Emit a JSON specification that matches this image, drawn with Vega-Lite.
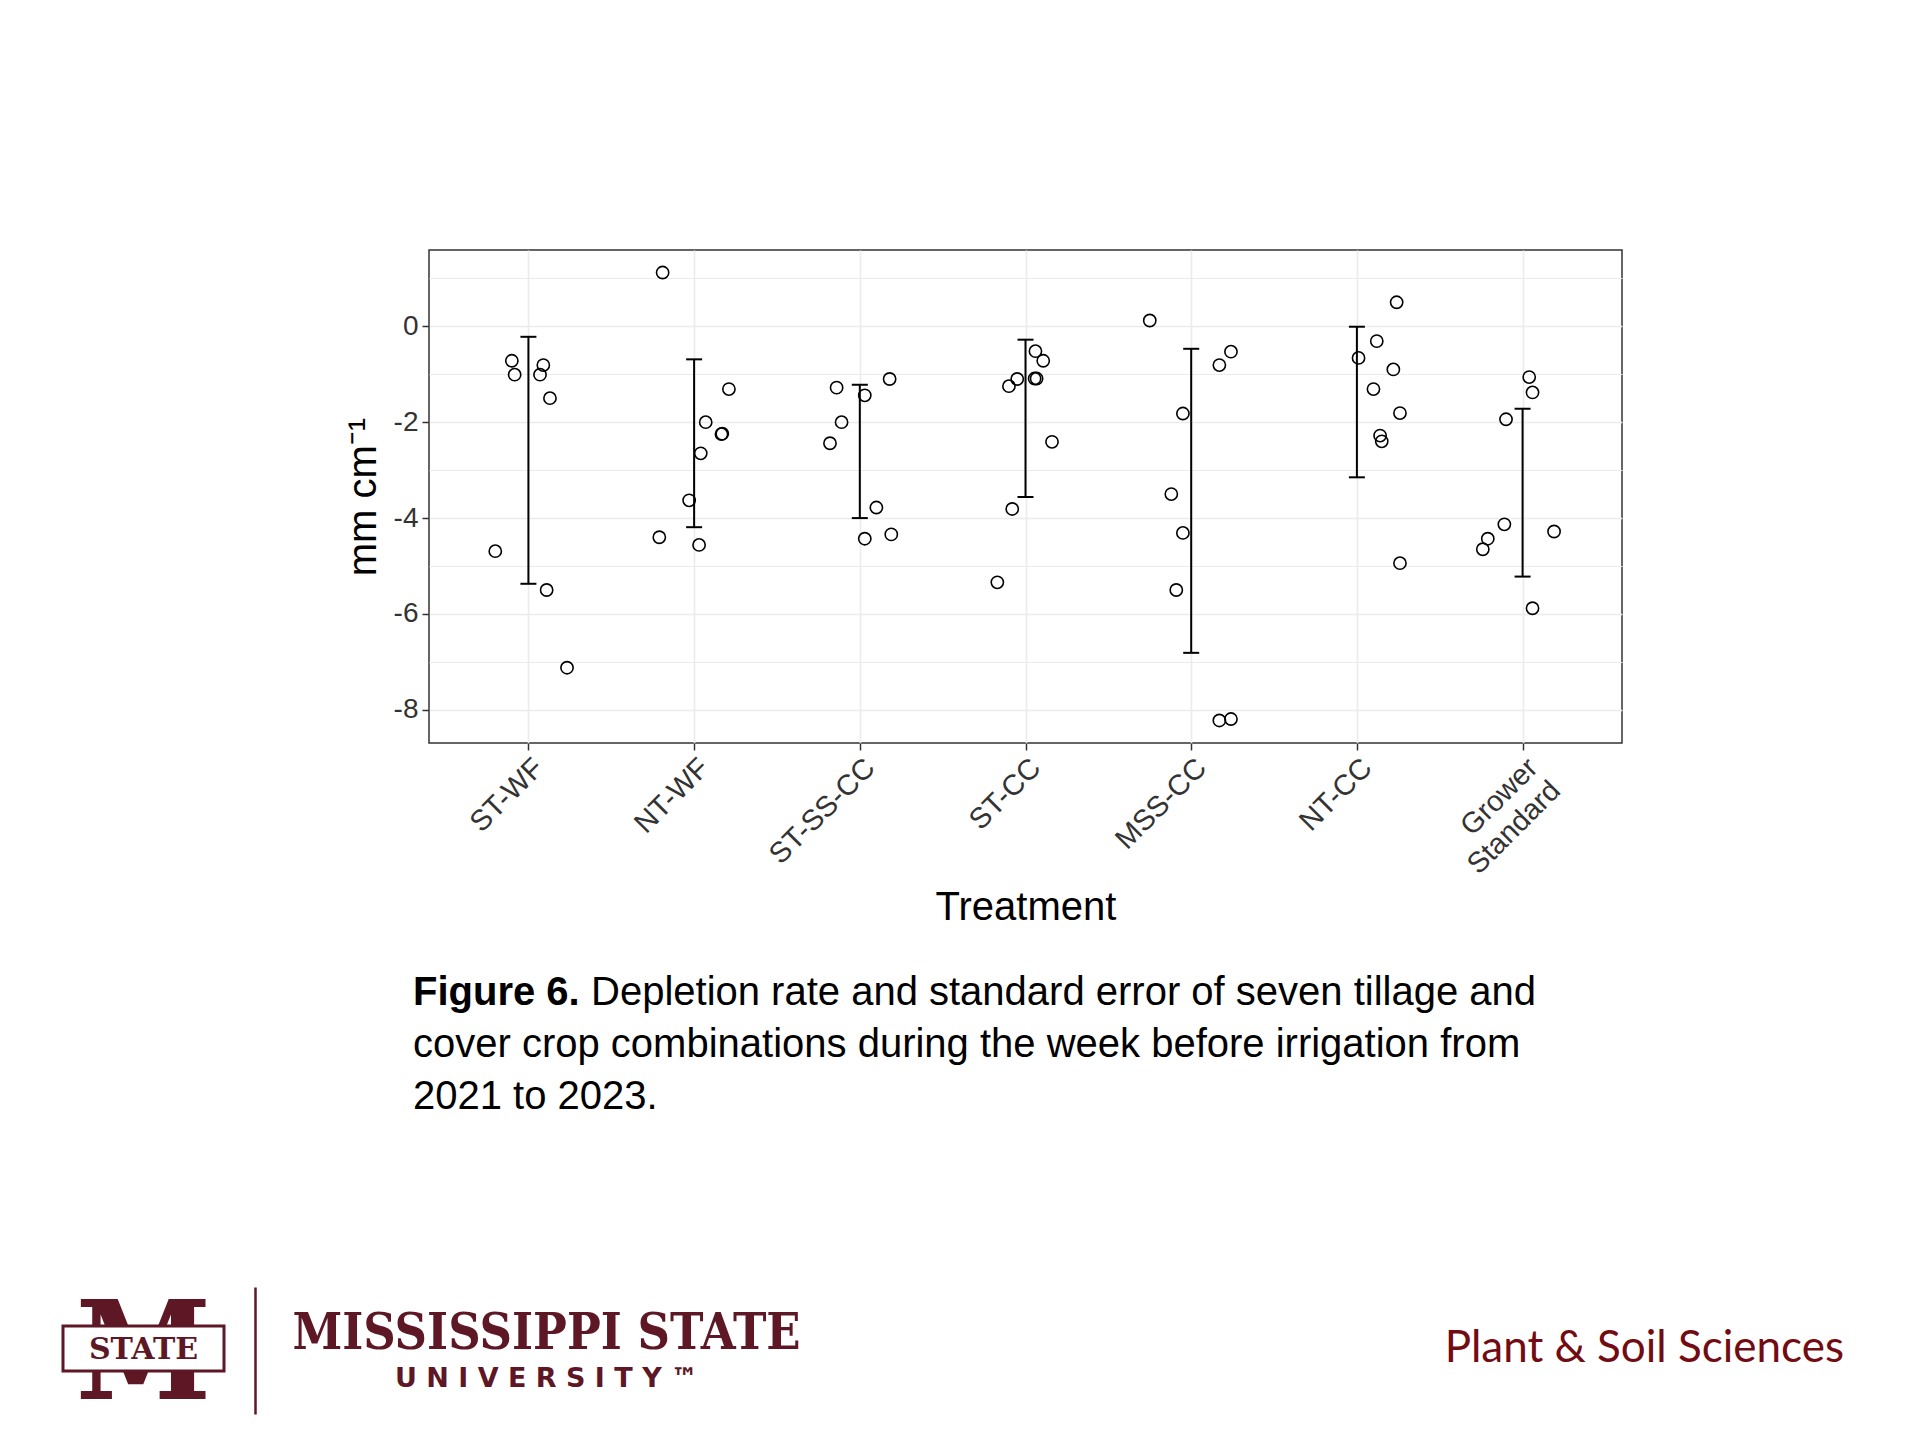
{
  "$schema": "https://vega.github.io/schema/vega-lite/v6.json",
  "background": "white",
  "padding": {"left": 61, "top": 249, "right": 20, "bottom": 12},
  "datasets": {
    "obs": [
      {"treatment": "ST-WF", "pos": 0.90, "rate": -0.72},
      {"treatment": "ST-WF", "pos": 0.917, "rate": -1.01},
      {"treatment": "ST-WF", "pos": 1.09, "rate": -0.81},
      {"treatment": "ST-WF", "pos": 1.07, "rate": -1.01},
      {"treatment": "ST-WF", "pos": 1.13, "rate": -1.50},
      {"treatment": "ST-WF", "pos": 0.80, "rate": -4.69},
      {"treatment": "ST-WF", "pos": 1.11, "rate": -5.50},
      {"treatment": "ST-WF", "pos": 1.233, "rate": -7.12},
      {"treatment": "NT-WF", "pos": 1.81, "rate": 1.12},
      {"treatment": "NT-WF", "pos": 2.21, "rate": -1.31},
      {"treatment": "NT-WF", "pos": 2.07, "rate": -2.00},
      {"treatment": "NT-WF", "pos": 2.165, "rate": -2.25},
      {"treatment": "NT-WF", "pos": 2.17, "rate": -2.24},
      {"treatment": "NT-WF", "pos": 2.04, "rate": -2.65},
      {"treatment": "NT-WF", "pos": 1.97, "rate": -3.63},
      {"treatment": "NT-WF", "pos": 1.79, "rate": -4.40},
      {"treatment": "NT-WF", "pos": 2.03, "rate": -4.56},
      {"treatment": "ST-SS-CC", "pos": 2.86, "rate": -1.28},
      {"treatment": "ST-SS-CC", "pos": 3.03, "rate": -1.44},
      {"treatment": "ST-SS-CC", "pos": 3.18, "rate": -1.10},
      {"treatment": "ST-SS-CC", "pos": 2.89, "rate": -2.00},
      {"treatment": "ST-SS-CC", "pos": 2.82, "rate": -2.44},
      {"treatment": "ST-SS-CC", "pos": 3.10, "rate": -3.78},
      {"treatment": "ST-SS-CC", "pos": 3.03, "rate": -4.43},
      {"treatment": "ST-SS-CC", "pos": 3.19, "rate": -4.34},
      {"treatment": "ST-CC", "pos": 3.83, "rate": -5.34},
      {"treatment": "ST-CC", "pos": 3.92, "rate": -3.81},
      {"treatment": "ST-CC", "pos": 3.90, "rate": -1.25},
      {"treatment": "ST-CC", "pos": 3.95, "rate": -1.10},
      {"treatment": "ST-CC", "pos": 4.055, "rate": -1.09},
      {"treatment": "ST-CC", "pos": 4.067, "rate": -1.09},
      {"treatment": "ST-CC", "pos": 4.06, "rate": -0.52},
      {"treatment": "ST-CC", "pos": 4.107, "rate": -0.72},
      {"treatment": "ST-CC", "pos": 4.16, "rate": -2.41},
      {"treatment": "MSS-CC", "pos": 4.75, "rate": 0.12},
      {"treatment": "MSS-CC", "pos": 5.17, "rate": -0.81},
      {"treatment": "MSS-CC", "pos": 5.24, "rate": -0.53},
      {"treatment": "MSS-CC", "pos": 4.95, "rate": -1.82},
      {"treatment": "MSS-CC", "pos": 4.88, "rate": -3.50},
      {"treatment": "MSS-CC", "pos": 4.95, "rate": -4.31},
      {"treatment": "MSS-CC", "pos": 4.91, "rate": -5.50},
      {"treatment": "MSS-CC", "pos": 5.17, "rate": -8.22},
      {"treatment": "MSS-CC", "pos": 5.24, "rate": -8.19},
      {"treatment": "NT-CC", "pos": 6.24, "rate": 0.50},
      {"treatment": "NT-CC", "pos": 6.12, "rate": -0.31},
      {"treatment": "NT-CC", "pos": 6.01, "rate": -0.66},
      {"treatment": "NT-CC", "pos": 6.22, "rate": -0.90},
      {"treatment": "NT-CC", "pos": 6.10, "rate": -1.31},
      {"treatment": "NT-CC", "pos": 6.26, "rate": -1.81},
      {"treatment": "NT-CC", "pos": 6.14, "rate": -2.28},
      {"treatment": "NT-CC", "pos": 6.15, "rate": -2.40},
      {"treatment": "NT-CC", "pos": 6.26, "rate": -4.94},
      {"treatment": "Grower Standard", "pos": 7.04, "rate": -1.06},
      {"treatment": "Grower Standard", "pos": 7.06, "rate": -1.38},
      {"treatment": "Grower Standard", "pos": 6.90, "rate": -1.94},
      {"treatment": "Grower Standard", "pos": 6.89, "rate": -4.13},
      {"treatment": "Grower Standard", "pos": 6.79, "rate": -4.43},
      {"treatment": "Grower Standard", "pos": 6.76, "rate": -4.65},
      {"treatment": "Grower Standard", "pos": 7.19, "rate": -4.28},
      {"treatment": "Grower Standard", "pos": 7.06, "rate": -5.88}
    ],
    "bars": [
      {"treatment": "ST-WF", "pos": 1, "lo": -5.37, "hi": -0.22},
      {"treatment": "NT-WF", "pos": 2, "lo": -4.19, "hi": -0.69},
      {"treatment": "ST-SS-CC", "pos": 3, "lo": -4.00, "hi": -1.22},
      {"treatment": "ST-CC", "pos": 4, "lo": -3.56, "hi": -0.28},
      {"treatment": "MSS-CC", "pos": 5, "lo": -6.81, "hi": -0.47},
      {"treatment": "NT-CC", "pos": 6, "lo": -3.15, "hi": -0.01},
      {"treatment": "Grower Standard", "pos": 7, "lo": -5.22, "hi": -1.72}
    ],
    "divider": [{"v": 0}, {"v": 1}]
  },
  "concat": [
    {
      "data": {"values": []}, "mark": "point", "width": 161, "height": 1,
      "title": {
        "text": "M",
        "orient": "bottom", "anchor": "middle", "frame": "group",
        "offset": 1041,
        "font": "DejaVu Serif Condensed, DejaVu Serif", "fontSize": 136, "fontWeight": "bold", "color": "#5d1725"
      }
    },
    {
      "data": {"values": []}, "mark": "point", "width": 205, "height": 1,
      "title": {
        "text": "Figure 6.",
        "subtitle": [
          "cover crop combinations during the week before irrigation from",
          "2021 to 2023."
        ],
        "orient": "bottom", "anchor": "start", "frame": "group",
        "offset": 722, "dx": 189,
        "font": "Liberation Sans", "fontSize": 40, "fontWeight": "bold", "color": "#000000",
        "subtitleFont": "Liberation Sans", "subtitleFontSize": 40, "subtitleFontWeight": "normal",
        "subtitleColor": "#000000", "subtitleLineHeight": 52, "subtitlePadding": 12
      }
    },
    {
      "width": 1193,
      "height": 493,
      "view": {"stroke": "#333333", "strokeWidth": 1.5},
      "layer": [
        {
          "data": {"name": "bars"},
          "mark": {"type": "rule", "color": "#000000", "strokeWidth": 2},
          "encoding": {
            "x": {
              "field": "pos", "type": "quantitative", "title": "Treatment",
              "scale": {"domain": [0.4, 7.6], "nice": false, "zero": false},
              "axis": {
                "values": [1, 2, 3, 4, 5, 6, 7],
                "labelExpr": "[' ', 'ST-WF', 'NT-WF', 'ST-SS-CC', 'ST-CC', 'MSS-CC', 'NT-CC', ['Grower', 'Standard']][datum.value]",
                "labelAngle": -45,
                "labelAlign": "right",
                "labelBaseline": "top",
                "labelFont": "Liberation Sans",
                "labelFontSize": 29,
                "labelLineHeight": 32,
                "labelColor": "#333333",
                "labelPadding": 3,
                "labelFlush": false,
                "labelOverlap": false,
                "tickSize": 7,
                "tickColor": "#333333",
                "tickWidth": 1.5,
                "domain": false,
                "grid": true,
                "gridColor": "#ebebeb",
                "gridWidth": 1.6,
                "titleFont": "Liberation Sans",
                "titleFontSize": 40,
                "titleFontWeight": "normal",
                "titleColor": "#000000",
                "titlePadding": 8
              }
            },
            "y": {
              "field": "lo", "type": "quantitative", "title": "mm cm⁻¹",
              "scale": {"domain": [-8.69, 1.59], "nice": false, "zero": false},
              "axis": {
                "values": [-8, -7, -6, -5, -4, -3, -2, -1, 0, 1],
                "labelExpr": "datum.value % 2 === 0 ? '' + datum.value : ''",
                "labelFont": "Liberation Sans",
                "labelFontSize": 28,
                "labelColor": "#333333",
                "labelPadding": 4,
                "tickSize": 7,
                "tickColor": "#333333",
                "tickWidth": 1.5,
                "tickOpacity": {"condition": {"test": "datum.value % 2 === 0", "value": 1}, "value": 0},
                "domain": false,
                "grid": true,
                "gridColor": "#ebebeb",
                "gridWidth": {"condition": {"test": "datum.value % 2 === 0", "value": 1.6}, "value": 1.1},
                "titleFont": "Liberation Sans",
                "titleFontSize": 40,
                "titleFontWeight": "normal",
                "titleColor": "#000000",
                "titlePadding": 10
              }
            },
            "y2": {"field": "hi"}
          }
        },
        {
          "data": {"name": "bars"},
          "mark": {"type": "tick", "orient": "horizontal", "color": "#000000", "size": 16, "thickness": 2, "opacity": 1},
          "encoding": {
            "x": {"field": "pos", "type": "quantitative", "title": "Treatment"},
            "y": {"field": "lo", "type": "quantitative", "title": "mm cm⁻¹"}
          }
        },
        {
          "data": {"name": "bars"},
          "mark": {"type": "tick", "orient": "horizontal", "color": "#000000", "size": 16, "thickness": 2, "opacity": 1},
          "encoding": {
            "x": {"field": "pos", "type": "quantitative", "title": "Treatment"},
            "y": {"field": "hi", "type": "quantitative", "title": "mm cm⁻¹"}
          }
        },
        {
          "data": {"name": "obs"},
          "mark": {"type": "point", "shape": "circle", "filled": false, "color": "#000000", "size": 150, "strokeWidth": 1.6, "opacity": 1},
          "encoding": {
            "x": {"field": "pos", "type": "quantitative", "title": "Treatment"},
            "y": {"field": "rate", "type": "quantitative", "title": "mm cm⁻¹"}
          }
        }
      ]
    },
    {
      "data": {"values": []}, "mark": "point", "width": 1, "height": 1,
      "title": {
        "text": "Depletion rate and standard error of seven tillage and",
        "orient": "bottom", "anchor": "start", "frame": "group",
        "offset": 722, "dx": -1031,
        "font": "Liberation Sans", "fontSize": 40, "fontWeight": "normal", "color": "#000000"
      }
    },
    {
      "data": {"name": "divider"},
      "mark": {"type": "point", "opacity": 0, "size": 0},
      "width": 161, "height": 45,
      "view": {"fill": "#ffffff", "stroke": "#5d1725", "strokeWidth": 3},
      "encoding": {
        "y": {
          "field": "v", "type": "quantitative",
          "scale": {"domain": [0, 1], "range": [88, -39]},
          "axis": {"orient": "right", "offset": 31, "domain": true, "domainColor": "#5d1725", "domainWidth": 2.5,
                   "ticks": false, "labels": false, "grid": false, "title": null}
        }
      },
      "title": {
        "text": "STATE",
        "orient": "bottom", "anchor": "middle", "frame": "group",
        "offset": -118,
        "font": "DejaVu Serif", "fontSize": 30, "fontWeight": "bold", "color": "#5d1725"
      }
    },
    {
      "data": {"values": []}, "mark": "point", "width": 205, "height": 45,
      "title": {
        "text": "MISSISSIPPI STATE",
        "subtitle": "U N I V E R S I T Y ™",
        "orient": "bottom", "anchor": "middle", "frame": "group",
        "offset": -62, "dx": 220,
        "font": "DejaVu Serif Condensed, DejaVu Serif", "fontSize": 50, "fontWeight": "bold", "color": "#5d1725",
        "subtitleFont": "DejaVu Sans", "subtitleFontSize": 27, "subtitleFontWeight": "bold", "subtitleColor": "#5d1725",
        "subtitlePadding": 7
      }
    },
    {
      "data": {"values": []}, "mark": "point", "width": 1193, "height": 45,
      "title": {
        "text": "Plant & Soil Sciences",
        "orient": "bottom", "anchor": "end", "frame": "group",
        "offset": -44, "dx": 222,
        "font": "Lato", "fontSize": 44, "fontWeight": "normal", "color": "#720b12"
      }
    },
    {"data": {"values": []}, "mark": "point", "width": 1, "height": 1}
  ],
  "columns": 4,
  "bounds": "flush",
  "align": "each",
  "spacing": {"row": 583, "column": 0},
  "config": {
    "view": {"stroke": "transparent"},
    "font": "Liberation Sans"
  }
}
